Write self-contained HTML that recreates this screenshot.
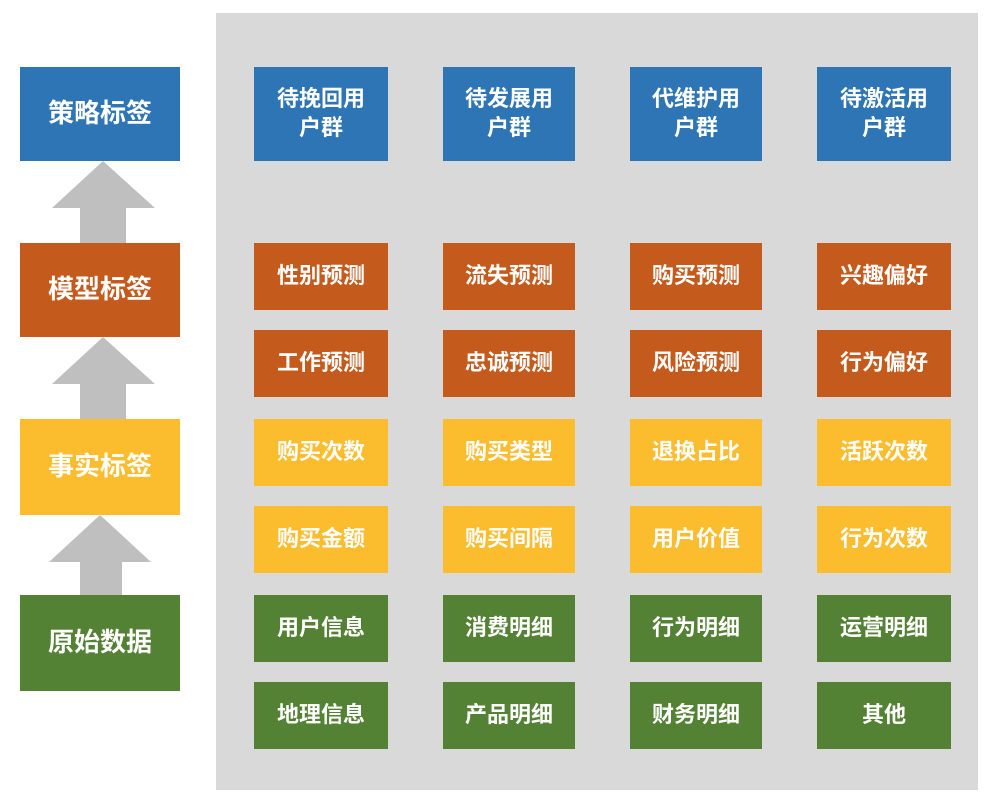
<!DOCTYPE html>
<html><head><meta charset="utf-8"><style>
body{margin:0;width:998px;height:809px;background:#fff;position:relative;overflow:hidden;font-family:"Liberation Sans","Noto Sans CJK SC",sans-serif;}
.b{position:absolute;display:flex;align-items:center;justify-content:center;text-align:center;color:#fff;font-weight:bold;line-height:1.3;}
.L{left:20px;width:160px;font-size:26px;}
.g{font-size:22px;height:67px;}
.bl{background:#2e75b6}.or{background:#c55a1d}.ye{background:#fbbc2e}.gr{background:#548235}
#panel{position:absolute;left:216px;top:13px;width:762px;height:777px;background:#d9d9d9;}
</style></head><body>
<div id="panel"></div>
<svg style="position:absolute;left:0;top:0" width="998" height="809">
<g fill="#bfbfbf">
<polygon points="103,161 155,208 126,208 126,243 80,243 80,208 52,208"/>
<polygon points="103,337 155,384 126,384 126,419 80,419 80,384 52,384"/>
<polygon points="100,515 151,562 122,562 122,595 80,595 80,562 49,562"/>
</g></svg>
<div class="b L bl" style="top:67px;height:94px">策略标签</div>
<div class="b L or" style="top:243px;height:94px">模型标签</div>
<div class="b L ye" style="top:419px;height:96px">事实标签</div>
<div class="b L gr" style="top:595px;height:96px">原始数据</div>

<div class="b g bl" style="left:254px;width:134px;top:67px;height:94px">待挽回用<br>户群</div>
<div class="b g bl" style="left:443px;width:132px;top:67px;height:94px">待发展用<br>户群</div>
<div class="b g bl" style="left:630px;width:132px;top:67px;height:94px">代维护用<br>户群</div>
<div class="b g bl" style="left:817px;width:134px;top:67px;height:94px">待激活用<br>户群</div>

<div class="b g or" style="left:254px;width:134px;top:243px">性别预测</div>
<div class="b g or" style="left:443px;width:132px;top:243px">流失预测</div>
<div class="b g or" style="left:630px;width:132px;top:243px">购买预测</div>
<div class="b g or" style="left:817px;width:134px;top:243px">兴趣偏好</div>

<div class="b g or" style="left:254px;width:134px;top:330px">工作预测</div>
<div class="b g or" style="left:443px;width:132px;top:330px">忠诚预测</div>
<div class="b g or" style="left:630px;width:132px;top:330px">风险预测</div>
<div class="b g or" style="left:817px;width:134px;top:330px">行为偏好</div>

<div class="b g ye" style="left:254px;width:134px;top:419px">购买次数</div>
<div class="b g ye" style="left:443px;width:132px;top:419px">购买类型</div>
<div class="b g ye" style="left:630px;width:132px;top:419px">退换占比</div>
<div class="b g ye" style="left:817px;width:134px;top:419px">活跃次数</div>

<div class="b g ye" style="left:254px;width:134px;top:506px">购买金额</div>
<div class="b g ye" style="left:443px;width:132px;top:506px">购买间隔</div>
<div class="b g ye" style="left:630px;width:132px;top:506px">用户价值</div>
<div class="b g ye" style="left:817px;width:134px;top:506px">行为次数</div>

<div class="b g gr" style="left:254px;width:134px;top:595px">用户信息</div>
<div class="b g gr" style="left:443px;width:132px;top:595px">消费明细</div>
<div class="b g gr" style="left:630px;width:132px;top:595px">行为明细</div>
<div class="b g gr" style="left:817px;width:134px;top:595px">运营明细</div>

<div class="b g gr" style="left:254px;width:134px;top:682px">地理信息</div>
<div class="b g gr" style="left:443px;width:132px;top:682px">产品明细</div>
<div class="b g gr" style="left:630px;width:132px;top:682px">财务明细</div>
<div class="b g gr" style="left:817px;width:134px;top:682px">其他</div>
</body></html>
